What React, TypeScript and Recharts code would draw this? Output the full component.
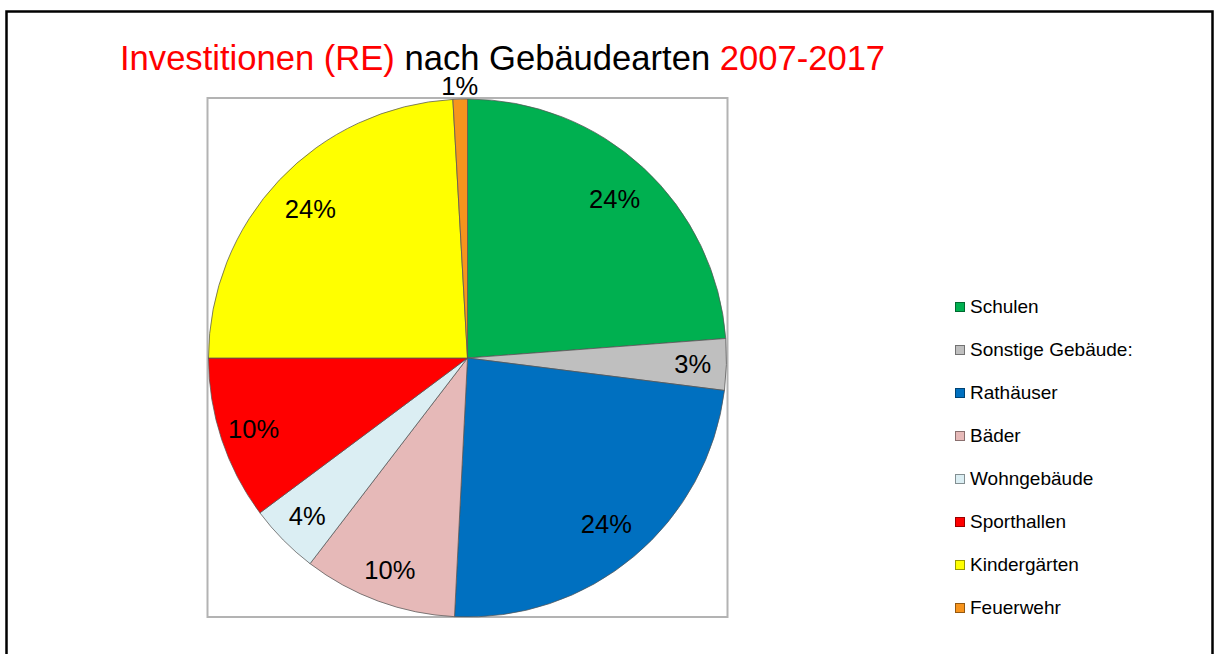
import { Cell, Legend, Pie, PieChart } from 'recharts';

const categories = [
  'Schulen',
  'Sonstige Gebäude:',
  'Rathäuser',
  'Bäder',
  'Wohngebäude',
  'Sporthallen',
  'Kindergärten',
  'Feuerwehr',
];
const shares = [23.8, 3.2, 23.8, 9.6, 4.4, 10.2, 24.1, 0.9];
const colors = [
  '#00B050',
  '#BFBFBF',
  '#0070C0',
  '#E6B9B8',
  '#DBEEF3',
  '#FF0000',
  '#FFFF00',
  '#F7941D',
];

const data = categories.map((name, i) => ({ name, value: shares[i] }));

const FONT = '"Liberation Sans", Arial, sans-serif';
const RADIAN = Math.PI / 180;

function renderLabel(props: any) {
  const { cx, cy, midAngle, outerRadius, percent } = props;
  // tiny slices get their label outside, big ones sit a bit further in
  let r = outerRadius * 0.87;
  if (percent < 0.02) r = outerRadius + 13;
  else if (percent >= 0.2) r = outerRadius * 0.835;
  const x = cx + r * Math.cos(-midAngle * RADIAN);
  const y = cy + r * Math.sin(-midAngle * RADIAN);
  return (
    <text
      x={x}
      y={y}
      fill='#000'
      fontSize={25.5}
      fontFamily={FONT}
      textAnchor='middle'
      dominantBaseline='central'
    >
      {Math.round(percent * 100)}%
    </text>
  );
}

// legend keeps the series order of the source, not alphabetical
function LegendList() {
  return (
    <div style={{ fontFamily: FONT, fontSize: 19, color: '#000' }}>
      {categories.map((name, i) => (
        <div
          key={name}
          style={{ height: 43, display: 'flex', alignItems: 'center' }}
        >
          <span
            style={{
              display: 'inline-block',
              width: 8,
              height: 8,
              background: colors[i],
              border: '1px solid rgba(0,0,0,0.4)',
              marginRight: 5,
            }}
          />
          <span style={{ whiteSpace: 'nowrap' }}>{name}</span>
        </div>
      ))}
    </div>
  );
}

export default function App() {
  return (
    <div
      style={{
        position: 'absolute',
        left: 0,
        top: 0,
        width: 1219,
        height: 654,
        background: '#fff',
        overflow: 'hidden',
      }}
    >
      <svg
        width={1219}
        height={654}
        style={{ position: 'absolute', left: 0, top: 0 }}
      >
        <rect
          x={6.5}
          y={11.5}
          width={1206}
          height={700}
          fill='none'
          stroke='#000'
          strokeWidth={2.5}
        />
        <rect
          x={207.5}
          y={98}
          width={520}
          height={519}
          fill='none'
          stroke='#B3B3B3'
          strokeWidth={2}
        />
        <text x={120} y={70} fontFamily={FONT} fontSize={34.6}>
          <tspan fill='#FF0000'>Investitionen (RE) </tspan>
          <tspan fill='#000'>nach Gebäudearten </tspan>
          <tspan fill='#FF0000'>2007-2017</tspan>
        </text>
      </svg>
      <div style={{ position: 'absolute', left: 0, top: 0 }}>
        <PieChart
          width={1219}
          height={654}
          margin={{ top: 0, right: 0, bottom: 0, left: 0 }}
        >
          <Pie
            data={data}
            dataKey='value'
            nameKey='name'
            cx={467.5}
            cy={358}
            outerRadius={259}
            startAngle={90}
            endAngle={-270}
            stroke='#555'
            strokeWidth={0.75}
            label={renderLabel}
            labelLine={false}
            isAnimationActive={false}
          >
            {data.map((d, i) => (
              <Cell key={d.name} fill={colors[i]} />
            ))}
          </Pie>
          <Legend
            layout='vertical'
            content={<LegendList />}
            wrapperStyle={{ left: 955, top: 285.5, width: 260 }}
          />
        </PieChart>
      </div>
    </div>
  );
}
